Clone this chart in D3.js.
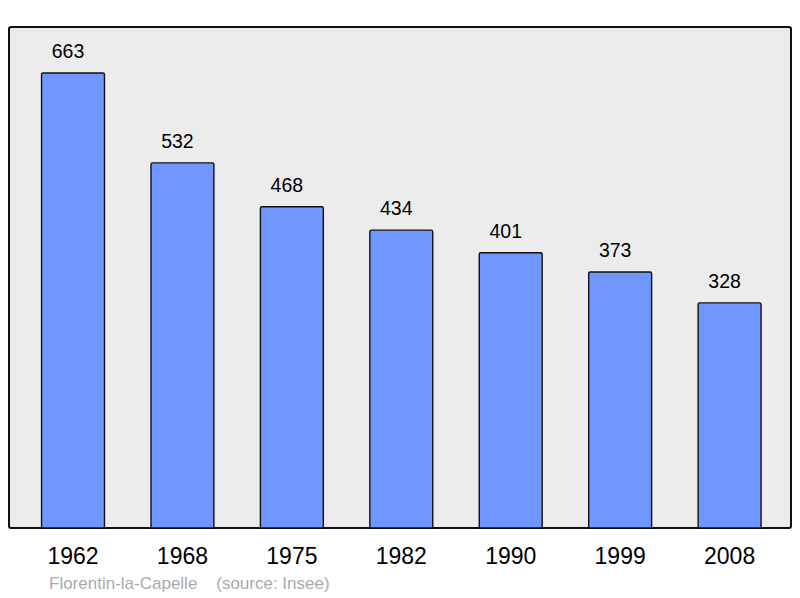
<!DOCTYPE html>
<html><head><meta charset="utf-8">
<script src="https://cdn.jsdelivr.net/npm/d3@7"></script>
<style>body{margin:0;background:#fff}svg{display:block}</style>
</head><body>
<script>
const years = ["1962","1968","1975","1982","1990","1999","2008"];
const population = [663,532,468,434,401,373,328];
const footer = "Florentin-la-Capelle\u00a0\u00a0\u00a0\u00a0(source: Insee)";

const W = 800, H = 598;
const svg = d3.select("body").append("svg").attr("width", W).attr("height", H);
const font = "Liberation Sans, Arial, sans-serif";

const plot = {x0: 9, y0: 27, x1: 791, y1: 528};
svg.append("rect").attr("x", plot.x0).attr("y", plot.y0)
  .attr("width", plot.x1 - plot.x0).attr("height", plot.y1 - plot.y0)
  .attr("rx", 2).attr("fill", "#ececec").attr("stroke", "#111").attr("stroke-width", 2);

const x = d3.scaleBand().domain(years).range([18.3, 784.3]).paddingInner(0.425).paddingOuter(0.2125);
const y = d3.scaleLinear().domain([0, 730]).range([plot.y1, plot.y1 - 501]);

svg.selectAll("rect.bar").data(population).join("rect").attr("class", "bar")
  .attr("x", (d, i) => x(years[i])).attr("y", d => y(d))
  .attr("width", x.bandwidth()).attr("height", d => y(0) - y(d))
  .attr("rx", 1.5).attr("fill", "#7097ff").attr("stroke", "#111").attr("stroke-width", 1.4);

svg.selectAll("text.val").data(population).join("text").attr("class", "val")
  .attr("x", (d, i) => x(years[i]) + x.bandwidth() / 2 - 5).attr("y", d => y(d) - 15)
  .attr("text-anchor", "middle").attr("font-family", font).attr("font-size", 19.5)
  .attr("fill", "#000").text(d => d);

const axis = d3.axisBottom(x).tickSize(0).tickPadding(0);
const g = svg.append("g").attr("transform", `translate(0,${plot.y1})`).call(axis);
g.select(".domain").remove();
g.selectAll("text").attr("font-family", font).attr("font-size", 23).attr("fill", "#000")
  .attr("dy", null).attr("y", 36);

svg.append("text").attr("x", 49).attr("y", 589).attr("font-family", font)
  .attr("font-size", 17).attr("fill", "#aaa").text(footer);
</script>
</body></html>
